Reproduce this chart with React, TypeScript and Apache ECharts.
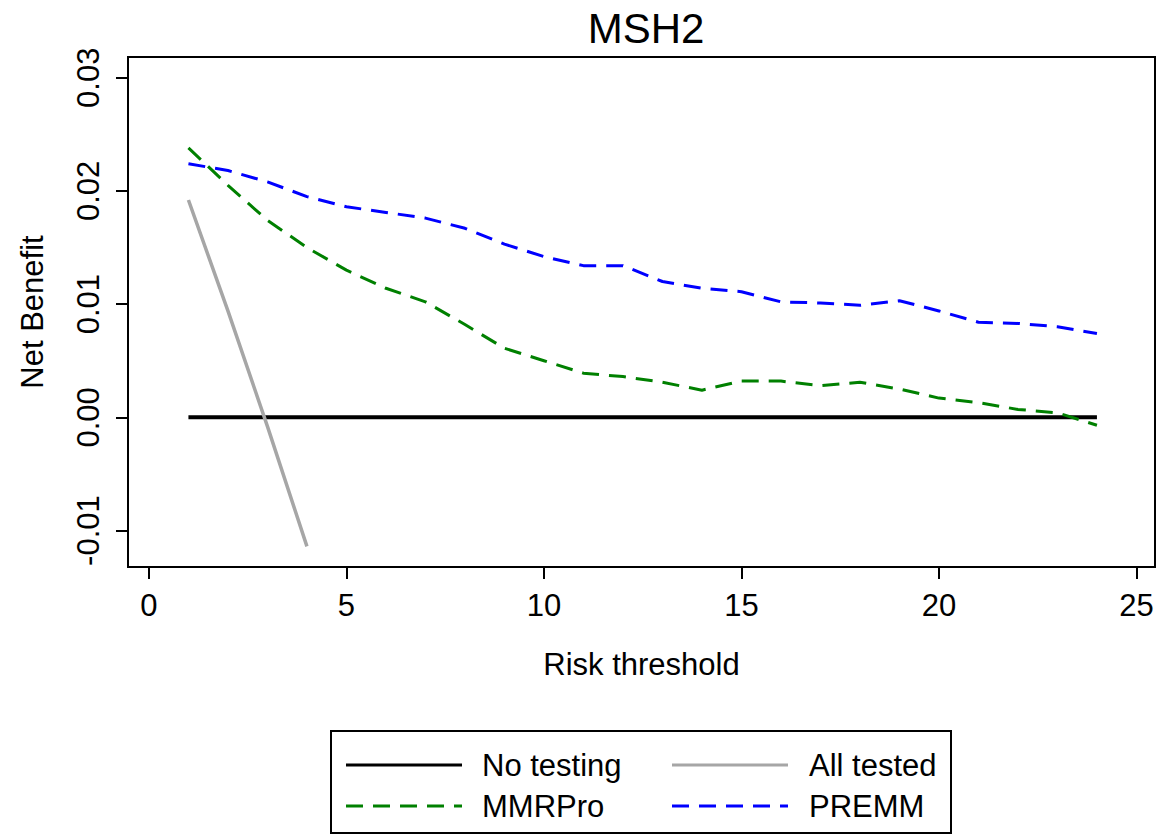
import React, { useEffect, useRef } from "react";
import * as echarts from "echarts";

const thresholds = [1, 2, 3, 4, 5, 6, 7, 8, 9, 10, 11, 12, 13, 14, 15, 16, 17, 18, 19, 20, 21, 22, 23, 24];
const noTesting = [0, 0, 0, 0, 0, 0, 0, 0, 0, 0, 0, 0, 0, 0, 0, 0, 0, 0, 0, 0, 0, 0, 0, 0];
const allTestedThresholds = [1, 2, 3, 4];
const allTested = [0.0192, 0.0094, -0.0008, -0.0114];
const mmrPro = [0.0238, 0.0205, 0.0174, 0.015, 0.013, 0.0114, 0.0102, 0.0082, 0.0061, 0.005, 0.0039, 0.0036, 0.0031, 0.0024, 0.0032, 0.0032, 0.0028, 0.0031, 0.0025, 0.0017, 0.0013, 0.0007, 0.0004, -0.0007];
const premm = [0.0224, 0.0218, 0.0208, 0.0195, 0.0186, 0.0181, 0.0176, 0.0167, 0.0153, 0.0142, 0.0134, 0.0134, 0.012, 0.0114, 0.0111, 0.0102, 0.0101, 0.0099, 0.0103, 0.0094, 0.0084, 0.0083, 0.008, 0.0074];
const xTicks = [0, 5, 10, 15, 20, 25];
const yTicks = [-0.01, 0, 0.01, 0.02, 0.03];
const seriesNames = ["No testing", "All tested", "MMRPro", "PREMM"];
const seriesColors = ["#000000", "#A6A6A6", "#008000", "#0000FF"];
const titleText = "MSH2";
const xName = "Risk threshold";
const yName = "Net Benefit";

const FONT = "'Liberation Sans', Arial, sans-serif";

export default function App() {
  const ref = useRef<HTMLDivElement>(null);
  useEffect(() => {
    if (!ref.current) return;
    const chart = echarts.init(ref.current, null, { renderer: "svg" });
    const zip = (xs: number[], ys: number[]) => xs.map((x, i) => [x, ys[i]]);
    const dash = [17, 10];
    const legendRows = [
      { y: 765, items: [0, 1] },
      { y: 806, items: [2, 3] },
    ];
    const colX = [
      { line: 346, text: 482 },
      { line: 672, text: 809 },
    ];
    const legendGraphics: any[] = [
      {
        type: "rect",
        shape: { x: 331, y: 731, width: 620, height: 102 },
        style: { fill: "none", stroke: "#000", lineWidth: 2 },
      },
    ];
    legendRows.forEach((row) => {
      row.items.forEach((idx, c) => {
        legendGraphics.push({
          type: "line",
          shape: { x1: colX[c].line, y1: row.y, x2: colX[c].line + 116, y2: row.y },
          style: {
            stroke: seriesColors[idx],
            lineWidth: 3,
            lineDash: idx >= 2 ? dash : null,
          },
        });
        legendGraphics.push({
          type: "text",
          x: colX[c].text,
          y: row.y,
          style: {
            text: seriesNames[idx],
            font: `31px ${FONT}`,
            fill: "#000",
            verticalAlign: "middle",
            align: "left",
          },
        });
      });
    });

    const option: any = {
      animation: false,
      backgroundColor: "#fff",
      title: {
        text: titleText,
        left: 641,
        textAlign: "center",
        top: 2,
        textStyle: { fontSize: 42, fontWeight: "normal", color: "#000", fontFamily: FONT },
      },
      grid: {
        left: 128,
        right: 8,
        top: 57,
        bottom: 270,
        show: true,
        borderColor: "#000",
        borderWidth: 2,
        backgroundColor: "transparent",
      },
      xAxis: {
        type: "value",
        min: -0.53,
        max: 25.47,
        axisLine: { show: false, onZero: false },
        splitLine: { show: false },
        axisTick: {
          show: true,
          customValues: xTicks,
          length: 12,
          lineStyle: { color: "#000", width: 2 },
        },
        axisLabel: {
          customValues: xTicks,
          fontSize: 31,
          color: "#000",
          fontFamily: FONT,
          margin: 23,
        },
        name: xName,
        nameLocation: "middle",
        nameGap: 82,
        nameTextStyle: { fontSize: 31, color: "#000", fontFamily: FONT },
      },
      yAxis: {
        type: "value",
        min: -0.01322,
        max: 0.03183,
        axisLine: { show: false, onZero: false },
        splitLine: { show: false },
        axisTick: {
          show: true,
          customValues: yTicks,
          length: 12,
          lineStyle: { color: "#000", width: 2 },
        },
        axisLabel: {
          customValues: yTicks,
          rotate: 90,
          fontSize: 31,
          color: "#000",
          fontFamily: FONT,
          margin: 24,
          formatter: (v: number) => v.toFixed(2),
        },
        name: yName,
        nameLocation: "middle",
        nameRotate: 90,
        nameGap: 80,
        nameTextStyle: { fontSize: 31, color: "#000", fontFamily: FONT },
      },
      series: [
        {
          name: seriesNames[0],
          type: "line",
          data: zip(thresholds, noTesting),
          symbol: "none",
          lineStyle: { color: seriesColors[0], width: 4 },
          z: 2,
        },
        {
          name: seriesNames[1],
          type: "line",
          data: zip(allTestedThresholds, allTested),
          symbol: "none",
          lineStyle: { color: seriesColors[1], width: 3.5 },
          z: 3,
        },
        {
          name: seriesNames[2],
          type: "line",
          data: zip(thresholds, mmrPro),
          symbol: "none",
          lineStyle: { color: seriesColors[2], width: 3, type: dash },
          z: 4,
        },
        {
          name: seriesNames[3],
          type: "line",
          data: zip(thresholds, premm),
          symbol: "none",
          lineStyle: { color: seriesColors[3], width: 3, type: dash },
          z: 5,
        },
      ],
      graphic: legendGraphics,
    };
    chart.setOption(option);
    return () => chart.dispose();
  }, []);
  return (
    <div
      ref={ref}
      style={{ position: "fixed", left: 0, top: 0, width: 1163, height: 837, background: "#fff" }}
    />
  );
}
